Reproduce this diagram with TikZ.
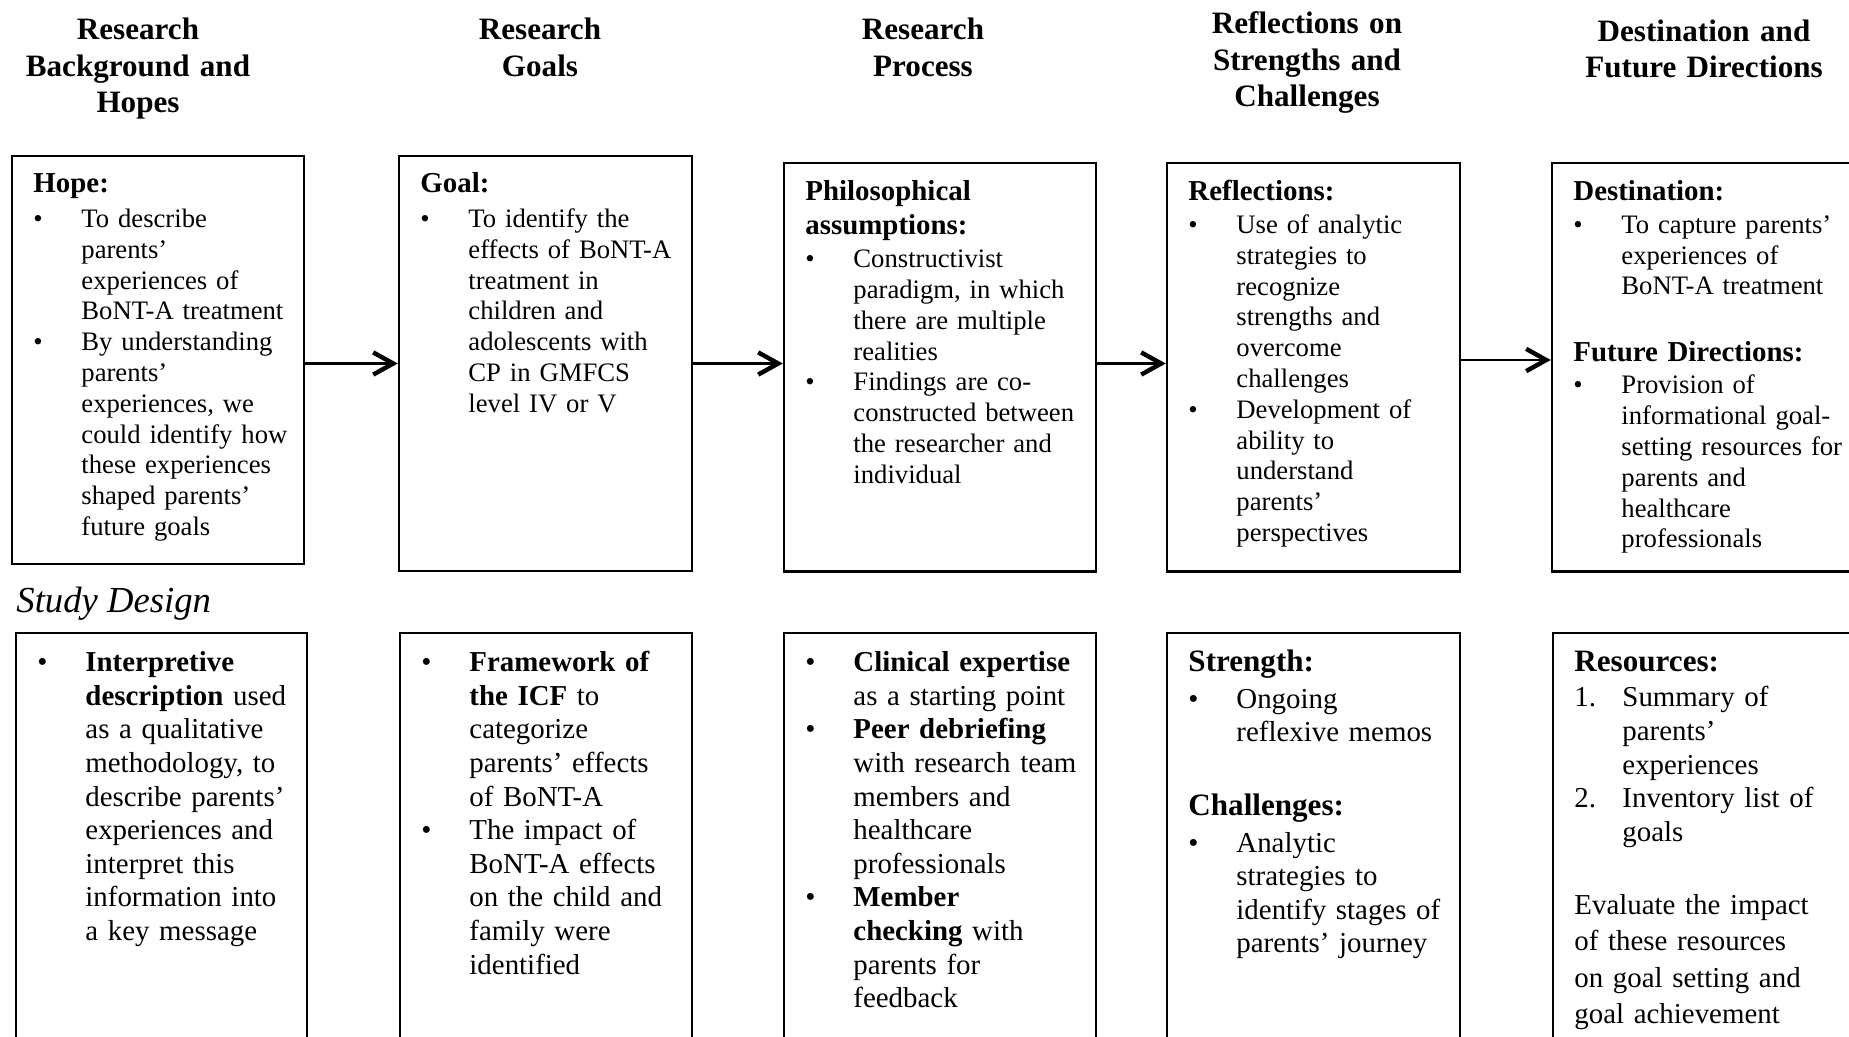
\documentclass[tikz,border=0pt]{standalone}
\usepackage{fontspec}
\setmainfont{Liberation Serif}
\usetikzlibrary{arrows.meta,fit}
\newlength\pxu
\setlength\pxu{0.45pt}
\newcommand\bul{\makebox[48\pxu][l]{\textbullet}}
\newcommand\ind{\hspace*{48\pxu}}
\newcommand\numb[1]{\makebox[48\pxu][l]{#1}}
\tikzset{
  box/.style={draw, line width=1.1pt, inner sep=0pt},
  arr/.style={line width=1.1pt, -{Straight Barb[length=9pt, width=10pt, line width=2pt]}},
  coltitle/.style={font=\fontsize{14}{16.43}\selectfont\bfseries, text width=300pt, align=center, anchor=base, inner sep=0pt},
  hd/.style={font=\fontsize{13}{15.1}\selectfont\bfseries, text width=200pt, align=left, anchor=base west, inner sep=0pt},
  hdb/.style={font=\fontsize{14}{16.2}\selectfont\bfseries, text width=200pt, align=left, anchor=base west, inner sep=0pt},
  txt/.style={font=\fontsize{12}{13.86}\selectfont, text width=200pt, align=left, anchor=base west, inner sep=0pt},
  txtb/.style={font=\fontsize{13}{15.12}\selectfont, text width=200pt, align=left, anchor=base west, inner sep=0pt},
  txtc/.style={font=\fontsize{13}{16.43}\selectfont, text width=200pt, align=left, anchor=base west, inner sep=0pt},
  design/.style={font=\fontsize{16.5}{19}\selectfont\itshape, anchor=base west, inner sep=0pt}
}
\begin{document}
\begin{tikzpicture}[x=0.45pt,y=-0.45pt]
\useasboundingbox (0,0) rectangle (1849,1037);
% column titles
\node[coltitle] (t1) at (138,39.5) {Research\\Background and\\Hopes};
\node[coltitle] (t2) at (540,39.5) {Research\\Goals};
\node[coltitle] (t3) at (923,40) {Research\\Process};
\node[coltitle] (t4) at (1307,33.7) {Reflections on\\Strengths and\\Challenges};
\node[coltitle] (t5) at (1704,41.3) {Destination and\\Future Directions};
% top row boxes
\node[box, fit={(12,156) (304,564)}] (b1) {};
\node[box, fit={(399,156) (692,571)}] (b2) {};
\node[box, fit={(784,163) (1096,571.5)}] (b3) {};
\node[box, fit={(1167,163) (1460,571.5)}] (b4) {};
\node[box, fit={(1552,163) (1900,571.5)}] (b5) {};
% arrows
\draw[arr] (b1.east |- b2.west) -- (b2.west);
\draw[arr] (b2.east) -- (b3.west |- b2.east);
\draw[arr] (b3.east |- b2.east) -- (b4.west |- b2.east);
\draw[arr] (b4.east |- b1.east) -- (b5.west |- b1.east);
% box 1
\node[hd] (h1) at (33,193) {Hope:};
\node[txt] (l1) at (33,227.5) {\bul To describe\\ \ind parents’\\ \ind experiences of\\ \ind BoNT-A treatment\\ \bul By understanding\\ \ind parents’\\ \ind experiences, we\\ \ind could identify how\\ \ind these experiences\\ \ind shaped parents’\\ \ind future goals};
% box 2
\node[hd] (h2) at (420,193) {Goal:};
\node[txt] (l2) at (420,227.5) {\bul To identify the\\ \ind effects of BoNT-A\\ \ind treatment in\\ \ind children and\\ \ind adolescents with\\ \ind CP in GMFCS\\ \ind level IV or V};
% box 3
\node[hd] (h3) at (805,200.8) {Philosophical\\assumptions:};
\node[txt] (l3) at (805,267.7) {\bul Constructivist\\ \ind paradigm, in which\\ \ind there are multiple\\ \ind realities\\ \bul Findings are co-\\ \ind constructed between\\ \ind the researcher and\\ \ind individual};
% box 4
\node[hd] (h4) at (1188,200.8) {Reflections:};
\node[txt] (l4) at (1188,233.5) {\bul Use of analytic\\ \ind strategies to\\ \ind recognize\\ \ind strengths and\\ \ind overcome\\ \ind challenges\\ \bul Development of\\ \ind ability to\\ \ind understand\\ \ind parents’\\ \ind perspectives};
% box 5
\node[hd] (h5) at (1573,200.8) {Destination:};
\node[txt] (l5) at (1573,233.3) {\bul To capture parents’\\ \ind experiences of\\ \ind BoNT-A treatment};
\node[hd] (h5b) at (1573,361.4) {Future Directions:};
\node[txt] (l5b) at (1573,394) {\bul Provision of\\ \ind informational goal-\\ \ind setting resources for\\ \ind parents and\\ \ind healthcare\\ \ind professionals};
% study design
\node[design] (sd) at (16,612.7) {Study Design};
% bottom row boxes
\node[box, fit={(16,633) (307,1100)}] (c1) {};
\node[box, fit={(400,633) (692,1100)}] (c2) {};
\node[box, fit={(784,633) (1096,1100)}] (c3) {};
\node[box, fit={(1167,633) (1460,1100)}] (c4) {};
\node[box, fit={(1553,633) (1900,1100)}] (c5) {};
% bottom box 1
\node[txtb] (m1) at (37,671.7) {\bul\textbf{Interpretive}\\ \ind\textbf{description} used\\ \ind as a qualitative\\ \ind methodology, to\\ \ind describe parents’\\ \ind experiences and\\ \ind interpret this\\ \ind information into\\ \ind a key message};
% bottom box 2
\node[txtb] (m2) at (421,671.7) {\bul\textbf{Framework of}\\ \ind\textbf{the ICF} to\\ \ind categorize\\ \ind parents’ effects\\ \ind of BoNT-A\\ \bul The impact of\\ \ind BoNT-A effects\\ \ind on the child and\\ \ind family were\\ \ind identified};
% bottom box 3
\node[txtb] (m3) at (805,671.7) {\bul\textbf{Clinical expertise}\\ \ind as a starting point\\ \bul\textbf{Peer debriefing}\\ \ind with research team\\ \ind members and\\ \ind healthcare\\ \ind professionals\\ \bul\textbf{Member}\\ \ind\textbf{checking} with\\ \ind parents for\\ \ind feedback};
% bottom box 4
\node[hdb] (k4) at (1188,671.7) {Strength:};
\node[txtb] (m4) at (1188,708.2) {\bul Ongoing\\ \ind reflexive memos};
\node[hdb] (k4b) at (1188,815.5) {Challenges:};
\node[txtb] (m4b) at (1188,852) {\bul Analytic\\ \ind strategies to\\ \ind identify stages of\\ \ind parents’ journey};
% bottom box 5
\node[hdb] (k5) at (1574,671.7) {Resources:};
\node[txtb] (m5) at (1574,707) {\numb{1.}Summary of\\ \ind parents’\\ \ind experiences\\ \numb{2.}Inventory list of\\ \ind goals};
\node[txtc] (m5b) at (1574,914) {Evaluate the impact\\of these resources\\on goal setting and\\goal achievement};
\end{tikzpicture}
\end{document}
